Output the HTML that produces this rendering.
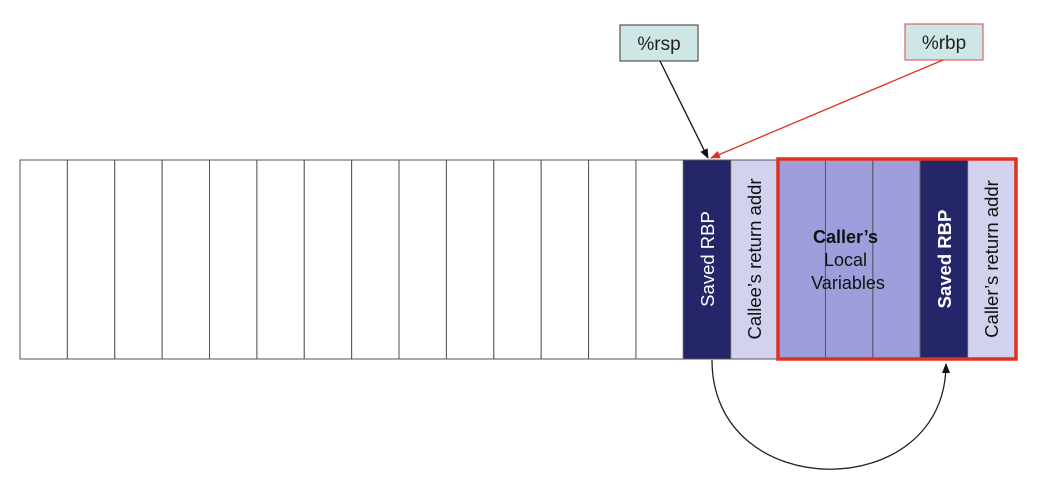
<!DOCTYPE html>
<html><head><meta charset="utf-8"><style>
html,body{margin:0;padding:0;background:#fff;}
svg{display:block;font-family:"Liberation Sans",Arial,sans-serif;}
</style></head><body>
<svg width="1046" height="485" viewBox="0 0 1046 485">
<defs>
<marker id="ab" markerWidth="10" markerHeight="10" refX="9" refY="5" orient="auto" markerUnits="userSpaceOnUse"><path d="M0,1 L10,5 L0,9 z" fill="#111"/></marker>
<marker id="ar" markerWidth="10" markerHeight="10" refX="9" refY="5" orient="auto" markerUnits="userSpaceOnUse"><path d="M0,1 L10,5 L0,9 z" fill="#e03020"/></marker>
</defs>
<g id="cells"></g>
<text transform="translate(714,259) rotate(-90)" text-anchor="middle" font-size="18.5" fill="#fff">Saved RBP</text>
<text transform="translate(761,259) rotate(-90)" text-anchor="middle" font-size="18.5" fill="#111">Callee’s return addr</text>
<text text-anchor="middle" font-size="18" fill="#111">
<tspan x="848" y="243" font-weight="bold">Caller’s</tspan>
<tspan x="848" y="266">Local</tspan>
<tspan x="848" y="289">Variables</tspan></text>
<text transform="translate(951,259) rotate(-90)" text-anchor="middle" font-size="18.5" font-weight="bold" fill="#fff">Saved RBP</text>
<text transform="translate(998,259) rotate(-90)" text-anchor="middle" font-size="18.5" fill="#111">Caller’s return addr</text>
<rect x="778" y="159" width="238" height="200" fill="none" stroke="#e03020" stroke-width="3.5"/>
<rect x="620" y="25" width="78" height="36" fill="#cfe6e6" stroke="#555" stroke-width="1.2"/>
<text x="659" y="50" text-anchor="middle" font-size="19" fill="#222">%rsp</text>
<rect x="905" y="24" width="78" height="36" fill="#cfe6e6" stroke="#e06060" stroke-width="1.2"/>
<text x="944" y="49" text-anchor="middle" font-size="19" fill="#222">%rbp</text>
<line x1="660" y1="61" x2="708" y2="158" stroke="#111" stroke-width="1.3" marker-end="url(#ab)"/>
<line x1="943" y1="60" x2="711" y2="158" stroke="#e03020" stroke-width="1.3" marker-end="url(#ar)"/>
<path d="M712 360 C712 505,946 505,946 364" fill="none" stroke="#222" stroke-width="1.3" marker-end="url(#ab)"/>
</svg>
<script>
const cellKinds=['w','w','w','w','w','w','w','w','w','w','w','w','w','w','d','l','p','p','p','d','l'];
const cellNames=['empty','empty','empty','empty','empty','empty','empty','empty','empty','empty','empty','empty','empty','empty','saved-rbp','callee-return-addr','caller-local','caller-local','caller-local','caller-saved-rbp','caller-return-addr'];
const fills={w:'#ffffff',d:'#25266a',l:'#d2d2ee',p:'#9e9edc'};
const g=document.getElementById('cells');
const x0=20,x1=1015,y0=160,y1=359,cw=(x1-x0)/cellKinds.length;
cellKinds.forEach((k,i)=>{
 const r=document.createElementNS('http://www.w3.org/2000/svg','rect');
 r.setAttribute('x',x0+i*cw);r.setAttribute('y',y0);
 r.setAttribute('width',cw);r.setAttribute('height',y1-y0);
 r.setAttribute('fill',fills[k]);r.setAttribute('stroke','#555');r.setAttribute('stroke-width','1');
 
 
 g.appendChild(r);
});
</script>
</body></html>
